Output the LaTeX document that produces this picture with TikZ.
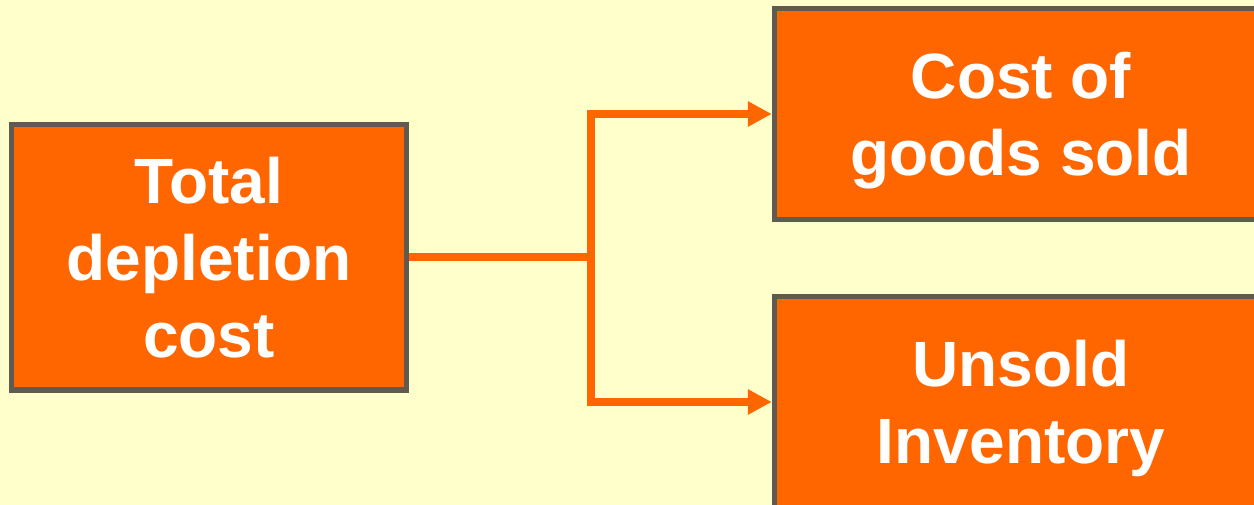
\documentclass[tikz,border=0pt]{standalone}
\usepackage{fontspec}
\setmainfont{Liberation Sans}
\usepackage{tikz}
\usetikzlibrary{positioning, arrows.meta, calc}

\definecolor{paleyellow}{RGB}{255,255,204}
\definecolor{boxorange}{RGB}{255,102,0}
\definecolor{boxgray}{RGB}{96,90,80}

\begin{document}
\begin{tikzpicture}[
    x=0.75pt, y=-0.75pt,
    % Orange cost boxes with a dark gray frame
    costbox/.style={
        draw=boxgray,
        fill=boxorange,
        line width=4.1pt,
        text=white,
        align=center,
        font=\fontsize{48}{57.75}\selectfont\bfseries,
        rectangle,
        inner sep=0pt,
        text depth=-4pt
    },
    % Thick orange connectors
    flow/.style={
        draw=boxorange,
        line width=6pt
    },
    arrow/.style={
        flow,
        -{Triangle[length=18pt, width=18pt]}
    }
]

% --- Page background ---
\fill[paleyellow] (0,0) rectangle (1254,505);
\clip (0,0) rectangle (1254,505);

% --- Source box ---
\node[costbox, minimum width=295.9pt, minimum height=199.1pt] (total) at (209,257.5) {
    Total\\depletion\\cost
};

% --- Target boxes (running off the right edge) ---
\node[costbox, minimum width=369.75pt, minimum height=158.25pt] (cogs) at (1021,114) {
    Cost of\\goods sold
};
\node[costbox, minimum width=369.75pt, minimum height=158.25pt] (unsold) at (1021,402) {
    Unsold\\Inventory
};

% --- Split connector ---
\coordinate (fork) at ($(total.east) + (182,0)$);
\draw[flow] (total.east) -- (fork);
\draw[arrow] (fork) |- (cogs.west);
\draw[arrow] (fork) |- (unsold.west);

\end{tikzpicture}
\end{document}
